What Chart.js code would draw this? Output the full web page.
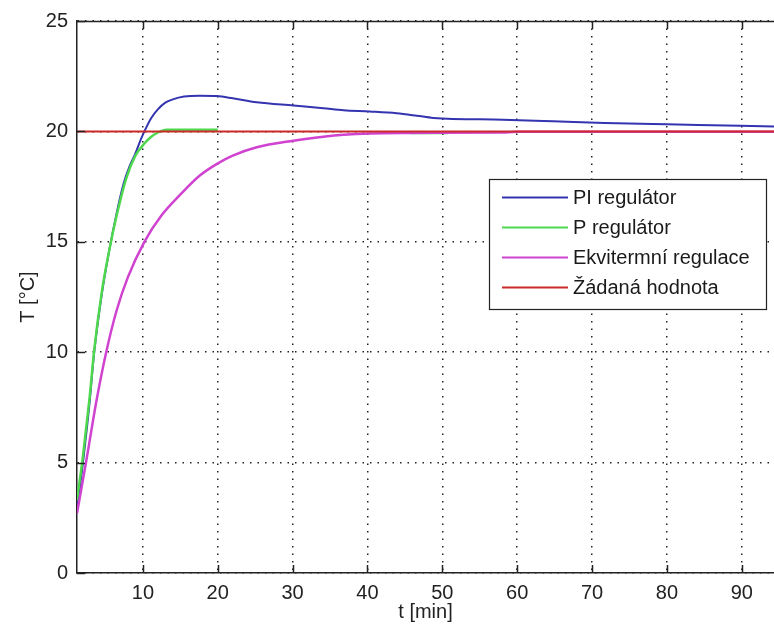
<!DOCTYPE html>
<html>
<head>
<meta charset="utf-8">
<script src="https://cdn.jsdelivr.net/npm/chart.js@4.4.1/dist/chart.umd.min.js"></script>
<style>
html,body{margin:0;padding:0;background:#fff;}
#wrap{width:774px;height:632px;overflow:hidden;}
canvas{display:block;}
</style>
</head>
<body>
<div id="wrap"><canvas id="c" width="774" height="632"></canvas></div>
<script>
// ---- data ----
const xTicks = [10, 20, 30, 40, 50, 60, 70, 80, 90];
const yTicks = [0, 5, 10, 15, 20, 25];
const seriesLabels = ['PI regulátor', 'P regulátor', 'Ekvitermní regulace', 'Žádaná hodnota'];

const tPI = [1.2, 2.0, 2.9, 3.5, 4.5, 5.5, 6.5, 7.4, 8.2, 9.0, 9.5, 10.2, 11.1, 12.0, 13.0, 14.0, 15.5, 17.6, 19.9, 22.0, 25.2, 30.1, 34.1, 36.8, 40.3, 43.9, 46.6, 48.8, 58.1, 64.8, 71.7, 80.0, 89.8, 94.3];
const yPI = [2.8, 5.0, 7.8, 10.0, 12.6, 14.6, 16.3, 17.6, 18.4, 19.0, 19.45, 20.0, 20.6, 21.0, 21.3, 21.45, 21.58, 21.62, 21.6, 21.5, 21.32, 21.17, 21.05, 20.96, 20.9, 20.82, 20.71, 20.61, 20.53, 20.46, 20.38, 20.32, 20.26, 20.22];

const tP = [1.2, 2.0, 2.9, 3.5, 4.5, 5.5, 6.5, 7.8, 9.0, 10.2, 11.0, 12.0, 13.2, 20.0, 33.0, 45.7, 50.7];
const yP = [3.3, 5.3, 8.0, 10.1, 12.7, 14.6, 16.2, 17.9, 18.9, 19.45, 19.72, 19.95, 20.08, 20.08, null, 19.93, 19.93];

const tEkv = [1.2, 2.4, 3.8, 5.1, 6.5, 8.0, 10.2, 12.5, 14.9, 17.6, 19.9, 22.0, 25.2, 30.1, 34.1, 36.8, 40.3, 45.0, 58.0, 60.0, 94.3];
const yEkv = [2.7, 5.0, 7.8, 10.0, 11.9, 13.4, 15.0, 16.2, 17.1, 18.0, 18.53, 18.9, 19.28, 19.58, 19.76, 19.85, 19.91, 19.93, 19.95, 19.98, 19.98];

const tRef = [1.2, 94.3];
const yRef = [20, 20];

const xRange = [1.2, 94.3];
const yRange = [0, 25];

// ---- build ----
const pts = (xs, ys) => xs.map((x, i) => ({x: x, y: ys[i]}));
const FONT = "'Liberation Sans', Arial, sans-serif";
const colors = ['#3434b0', '#4ed84e', '#d043d0', '#cc2a2a'];

const frameAndLegend = {
  id: 'frameAndLegend',
  afterDatasetsDraw(chart) {
    const {ctx, chartArea: a, scales: {x, y}} = chart;
    ctx.save();
    ctx.strokeStyle = '#222';
    ctx.lineWidth = 1.5;
    ctx.setLineDash([]);
    ctx.beginPath();
    ctx.moveTo(a.left, a.top + 0.5);
    ctx.lineTo(a.right, a.top + 0.5);
    ctx.stroke();
    xTicks.forEach(v => {
      const px = Math.round(x.getPixelForValue(v)) + 0.5;
      ctx.beginPath();
      ctx.moveTo(px, a.bottom); ctx.lineTo(px, a.bottom - 8);
      ctx.moveTo(px, a.top); ctx.lineTo(px, a.top + 8);
      ctx.stroke();
    });
    yTicks.forEach(v => {
      const py = Math.round(y.getPixelForValue(v)) + 0.5;
      ctx.beginPath();
      ctx.moveTo(a.left, py); ctx.lineTo(a.left + 8, py);
      ctx.stroke();
    });
    ctx.restore();
  },
  afterDraw(chart) {
    const {ctx} = chart;
    const box = {l: 489, t: 179, r: 766, b: 309};
    ctx.save();
    ctx.setLineDash([]);
    ctx.fillStyle = '#fff';
    ctx.fillRect(box.l, box.t, box.r - box.l, box.b - box.t);
    ctx.strokeStyle = '#222';
    ctx.lineWidth = 1.2;
    ctx.strokeRect(box.l + 0.5, box.t + 0.5, box.r - box.l, box.b - box.t);
    ctx.font = '20px ' + FONT;
    ctx.textBaseline = 'middle';
    ctx.textAlign = 'left';
    chart.data.datasets.forEach((ds, i) => {
      const yy = 197 + i * 30;
      ctx.strokeStyle = ds.borderColor;
      ctx.lineWidth = 2;
      ctx.beginPath();
      ctx.moveTo(502, yy + 0.5); ctx.lineTo(568, yy + 0.5);
      ctx.stroke();
      ctx.fillStyle = '#1a1a1a';
      ctx.fillText(ds.label, 573, yy + 1);
    });
    ctx.restore();
  }
};

new Chart(document.getElementById('c'), {
  type: 'line',
  data: {
    datasets: [
      {label: seriesLabels[0], data: pts(tPI, yPI), borderColor: colors[0], borderWidth: 2, order: 4},
      {label: seriesLabels[1], data: pts(tP, yP), borderColor: colors[1], borderWidth: 2.5, order: 3},
      {label: seriesLabels[2], data: pts(tEkv, yEkv), borderColor: colors[2], borderWidth: 2.5, order: 2},
      {label: seriesLabels[3], data: pts(tRef, yRef), borderColor: colors[3], borderWidth: 2, order: 1}
    ]
  },
  options: {
    responsive: false,
    animation: false,
    devicePixelRatio: 1,
    layout: {padding: {top: 20, right: 0, left: 0, bottom: 0}},
    elements: {
      point: {radius: 0},
      line: {cubicInterpolationMode: 'monotone', fill: false}
    },
    plugins: {legend: {display: false}, tooltip: {enabled: false}},
    scales: {
      x: {
        type: 'linear',
        min: xRange[0], max: xRange[1],
        afterBuildTicks: s => { s.ticks = xTicks.map(v => ({value: v})); },
        afterFit: s => { s.height = 59; },
        grid: {color: '#222', lineWidth: 1.5, drawTicks: false},
        border: {display: true, color: '#222', width: 1.5, dash: [1.5, 6]},
        ticks: {font: {family: FONT, size: 20}, color: '#222', padding: 8, maxRotation: 0, autoSkip: false},
        title: {display: true, text: 't [min]', font: {family: FONT, size: 20}, color: '#222', padding: {top: 0, bottom: 8}}
      },
      y: {
        type: 'linear',
        min: yRange[0], max: yRange[1],
        afterBuildTicks: s => { s.ticks = yTicks.map(v => ({value: v})); },
        afterFit: s => { s.width = 77; },
        grid: {color: '#222', lineWidth: 1.5, drawTicks: false},
        border: {display: true, color: '#222', width: 1.5, dash: [1.5, 6]},
        ticks: {font: {family: FONT, size: 20}, color: '#222', padding: 9, autoSkip: false},
        title: {display: true, text: 'T [°C]', font: {family: FONT, size: 20}, color: '#222', padding: {top: 16, bottom: 0}}
      }
    }
  },
  plugins: [frameAndLegend]
});
</script>
</body>
</html>
